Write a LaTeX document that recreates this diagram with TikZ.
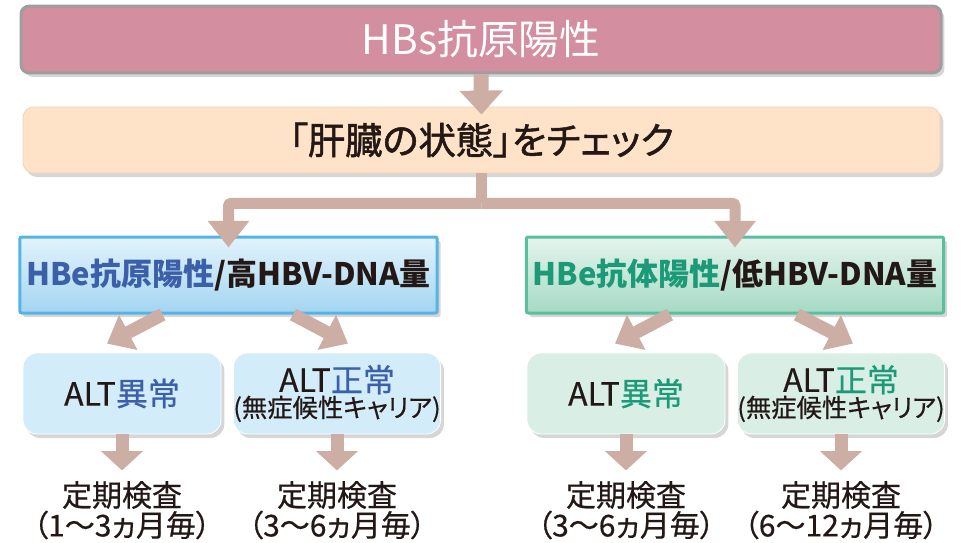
\documentclass[tikz,border=0pt]{standalone}
\usepackage{fontspec}
\setmainfont{Noto Sans CJK JP}
\newfontfamily\jpp{Noto Sans CJK JP}[RawFeature=+palt]
\newfontfamily\jpm{Noto Sans CJK JP}[FakeBold=0.5]
\newfontfamily\jpmp{Noto Sans CJK JP}[FakeBold=0.5,RawFeature=+palt]
\newfontfamily\jpbp{Noto Sans CJK JP}[RawFeature=+palt,FakeBold=1.4]
\usetikzlibrary{arrows.meta,shadows,calc}
\definecolor{arrowc}{HTML}{CCAEA4}
\definecolor{topfill}{HTML}{D38E9F}
\definecolor{topborder}{HTML}{9E9E9E}
\definecolor{peach}{HTML}{FEE3C8}
\definecolor{peachborder}{HTML}{F3D3B4}
\definecolor{blueborder}{HTML}{55B3E6}
\definecolor{bluetop}{HTML}{E2F3FC}
\definecolor{bluebot}{HTML}{A3D5F1}
\definecolor{bluetext}{HTML}{3C5FAA}
\definecolor{greenborder}{HTML}{5BBE9F}
\definecolor{greentop}{HTML}{E4F4EC}
\definecolor{greenbot}{HTML}{A6DAC5}
\definecolor{greentext}{HTML}{1C9A77}
\definecolor{lblue}{HTML}{D3ECF9}
\definecolor{lgreen}{HTML}{D9EEE5}
\definecolor{darktext}{HTML}{231815}
\tikzset{
  shad/.style={drop shadow={shadow xshift=2.5pt, shadow yshift=-3pt, opacity=0.35, fill=black!45}},
  topbox/.style={shad, draw=topborder, line width=2.25pt, fill=topfill, rounded corners=6pt,
    minimum width=690pt, minimum height=50pt, inner sep=0pt, text=white,
    font=\fontsize{30.5pt}{32pt}\selectfont},
  peachbox/.style={shad, draw=peachborder, line width=0.6pt, fill=peach, rounded corners=8pt,
    minimum width=687.75pt, minimum height=49.5pt, inner sep=0pt, text=darktext,
    font=\jpbp\fontsize{28pt}{29pt}\selectfont},
  midbox/.style={shad, line width=2.25pt, rounded corners=1.5pt,
    minimum width=313pt, minimum height=57pt, inner sep=0pt, text=darktext,
    font=\bfseries\fontsize{23.25pt}{24pt}\selectfont},
  lowbox/.style={shad, draw=white, line width=0.6pt, rounded corners=10.5pt,
    minimum width=148.5pt, minimum height=60.75pt, inner sep=0pt, text=darktext,
    align=center},
  endtxt/.style={text=darktext, inner sep=0pt, font=\jpm\fontsize{22.5pt}{24pt}\selectfont},
  endtxtb/.style={text=darktext, inner sep=0pt, font=\jpmp\fontsize{22.5pt}{24pt}\selectfont},
  arrA/.style={draw=arrowc, line width=11.25pt, -{Triangle[width=31.5pt,length=18pt]}},
  arrB/.style={draw=arrowc, line width=8.25pt, rounded corners=2pt, -{Triangle[width=30pt,length=20pt]}},
  arrC/.style={draw=arrowc, line width=9.75pt, -{Triangle[width=28.5pt,length=18pt]}},
  arrD/.style={draw=arrowc, line width=9.75pt, -{Triangle[width=30.75pt,length=14.5pt]}},
}
\newcommand{\alttwo}[1]{{\jpm\fontsize{24pt}{23.25pt}\selectfont ALT\textcolor{#1}{正常}}\\{\jpmp\fontsize{19pt}{23.25pt}\selectfont (無症候性キャリア)}}
\begin{document}
\begin{tikzpicture}[x=0.75pt,y=-0.75pt]
\useasboundingbox (0,0) rectangle (961,543);
\fill[white] (0,0) rectangle (961,543);

\node[topbox] (top) at (481,39.5) {HBs抗原陽性};
\node[peachbox] (chk) at (481.5,140) {「肝臓の状態」をチェック};

\node[midbox, draw=blueborder, top color=bluetop, bottom color=bluebot] (ml) at (228.5,275)
  {\textcolor{bluetext}{HBe抗原陽性}/高HBV-DNA量};
\node[midbox, draw=greenborder, top color=greentop, bottom color=greenbot] (mr) at (735,275)
  {\textcolor{greentext}{HBe抗体陽性}/低HBV-DNA量};

\node[lowbox, fill=lblue] (l1) at (122,393.5) {\jpm\fontsize{24pt}{24pt}\selectfont ALT\textcolor{bluetext}{異常}};
\node[lowbox, fill=lblue] (l2) at (337,393.5) {\alttwo{bluetext}};
\node[lowbox, fill=lgreen] (r1) at (626,393.5) {\jpm\fontsize{24pt}{24pt}\selectfont ALT\textcolor{greentext}{異常}};
\node[lowbox, fill=lgreen] (r2) at (841,393.5) {\alttwo{greentext}};

\node[endtxt] (e1a) at (122,495) {定期検査};
\node[endtxtb] (e1b) at (122,525) {（1〜3ヵ月毎）};
\node[endtxt] (e2a) at (337,495) {定期検査};
\node[endtxtb] (e2b) at (337,525) {（3〜6ヵ月毎）};
\node[endtxt] (e3a) at (626,495) {定期検査};
\node[endtxtb] (e3b) at (626,525) {（3〜6ヵ月毎）};
\node[endtxt] (e4a) at (841,495) {定期検査};
\node[endtxtb] (e4b) at (841,525) {（6〜12ヵ月毎）};

% arrows
\draw[arrA] (top.south) -- ($(chk.north)+(0,8)$);
\coordinate (br) at ($(chk.south)+(0,30)$);
\draw[draw=arrowc, line width=8.25pt] (chk.south) -- (br);
\draw[arrB] (br) -| ($(ml.north)+(0,12)$);
\draw[arrB] (br) -| ($(mr.north)+(0,12)$);

\draw[arrC] ($(ml.south)+(-66,0)$) -- ($(l1.north)+(-15,-9)$);
\draw[arrC] ($(ml.south)+(64.5,0)$) -- ($(l2.north)+(11,-9)$);
\draw[arrC] ($(mr.south)+(-65,0)$) -- ($(r1.north)+(-11,-9)$);
\draw[arrC] ($(mr.south)+(62,0)$) -- ($(r2.north)+(12,-9)$);

\draw[arrD] (l1.south) -- ($(l1.south)+(0,36)$);
\draw[arrD] (l2.south) -- ($(l2.south)+(0,36)$);
\draw[arrD] (r1.south) -- ($(r1.south)+(0,36)$);
\draw[arrD] (r2.south) -- ($(r2.south)+(0,36)$);
\end{tikzpicture}
\end{document}
